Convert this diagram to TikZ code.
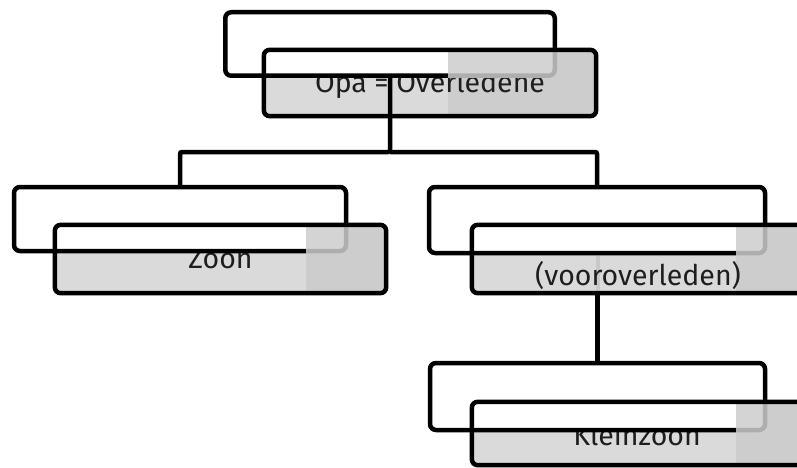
\documentclass[tikz,border=0pt]{standalone}
\usepackage{fontspec}
\setmainfont{Fira Sans}
\definecolor{boxlight}{HTML}{DADADA}
\definecolor{boxdark}{HTML}{CDCDCD}
\definecolor{ghostline}{HTML}{C8C8C8}
\definecolor{txtcol}{HTML}{1E1E1E}
\begin{document}
\begin{tikzpicture}[x=1pt,y=-1pt,
  graybox/.style={fill=boxlight, rounded corners=6pt, inner sep=0pt, draw=none},
  whitebox/.style={fill=white, draw=black, line width=4.5pt, rounded corners=6pt, inner sep=0pt},
  grayborder/.style={draw=black, line width=4.5pt, rounded corners=6pt},
  darkpart/.style={fill=boxdark},
  veil/.style={fill=boxdark, fill opacity=0.85},
  lbl/.style={inner sep=0pt, text=txtcol, font=\fontsize{28.5}{34}\selectfont},
  conn/.style={draw=black, line width=4.5pt, rounded corners=2pt},
  ghost/.style={draw=ghostline, line width=4pt}]
\useasboundingbox (0,0) rectangle (797,468);
\clip (0,0) rectangle (797,468);

% ---- group 1 : Opa
\node[graybox, minimum width=332pt, minimum height=66pt] (g1) at (430,83) {};
\begin{scope}\clip[rounded corners=6pt] (g1.south west) rectangle (g1.north east);
  \fill[darkpart] (448,0) rectangle (900,500);\end{scope}
\node[lbl, anchor=base] (t1) at (430,93) {Opa = Overledene};
\node[whitebox, minimum width=329.5pt, minimum height=63.5pt] (w1) at (390,44) {};
\begin{scope}\clip[rounded corners=6pt] (g1.south west) rectangle (g1.north east);
  \fill[veil] (448,0) rectangle (900,78.5);\end{scope}
\draw[grayborder] (g1.south west) rectangle (g1.north east);

% ---- group 2 : Zoon
\node[graybox, minimum width=331pt, minimum height=68pt] (g2) at (220.5,259) {};
\begin{scope}\clip[rounded corners=6pt] (g2.south west) rectangle (g2.north east);
  \fill[darkpart] (306,0) rectangle (900,500);\end{scope}
\node[lbl, anchor=base] (t2) at (220.5,268) {Zoon};
\node[whitebox, minimum width=332pt, minimum height=64pt] (w2) at (180,219) {};
\begin{scope}\clip[rounded corners=6pt] (g2.south west) rectangle (g2.north east);
  \fill[veil] (306,0) rectangle (900,253.5);\end{scope}
\draw[grayborder] (g2.south west) rectangle (g2.north east);

% ---- group 3 : (vooroverleden)
\node[graybox, minimum width=332pt, minimum height=68pt] (g3) at (638,259) {};
\begin{scope}\clip[rounded corners=6pt] (g3.south west) rectangle (g3.north east);
  \fill[darkpart] (736,0) rectangle (900,500);\end{scope}
\draw[ghost] (597.5,255.5) -- (597.5,293);
\node[lbl, anchor=base] (t3) at (638,285) {(vooroverleden)};
\node[whitebox, minimum width=336pt, minimum height=66pt] (w3) at (597,220) {};
\begin{scope}\clip[rounded corners=6pt] (g3.south west) rectangle (g3.north east);
  \fill[veil] (736,0) rectangle (900,255.5);\end{scope}
\draw[grayborder] (g3.south west) rectangle (g3.north east);

% ---- group 4 : Kleinzoon
\node[graybox, minimum width=332pt, minimum height=63pt] (g4) at (638,433.5) {};
\begin{scope}\clip[rounded corners=6pt] (g4.south west) rectangle (g4.north east);
  \fill[darkpart] (736,0) rectangle (900,500);\end{scope}
\node[lbl, anchor=base] (t4) at (637,445) {Kleinzoon};
\node[whitebox, minimum width=335pt, minimum height=67pt] (w4) at (597.5,396.5) {};
\begin{scope}\clip[rounded corners=6pt] (g4.south west) rectangle (g4.north east);
  \fill[veil] (736,0) rectangle (900,432.5);\end{scope}
\draw[grayborder] (g4.south west) rectangle (g4.north east);

% ---- connectors
\coordinate (bus) at (w1.south |- 0,152);
\draw[conn] (w1.south) -- (bus) -| (w2.north);
\draw[conn] (bus) -| (w3.north);
\draw[conn] (w4.north |- g3.south) -- (w4.north);
\end{tikzpicture}
\end{document}
